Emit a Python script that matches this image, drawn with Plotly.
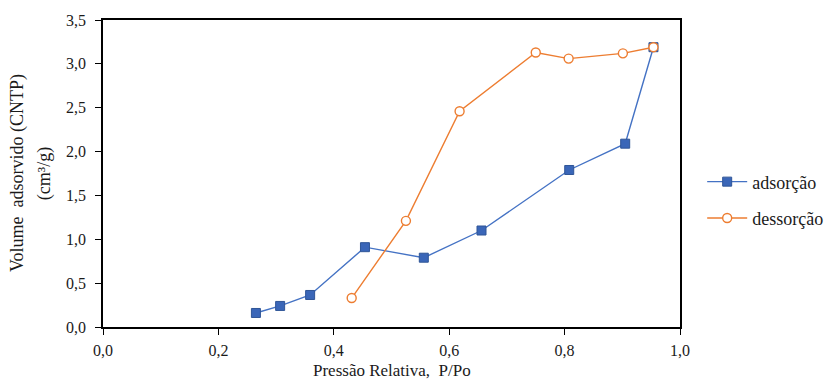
import plotly.graph_objects as go

ads_x = [0.265, 0.307, 0.359, 0.454, 0.556, 0.656, 0.808, 0.905, 0.954]
ads_y = [0.16, 0.24, 0.365, 0.91, 0.79, 1.10, 1.79, 2.09, 3.19]
des_x = [0.431, 0.525, 0.618, 0.750, 0.807, 0.901, 0.954]
des_y = [0.33, 1.21, 2.46, 3.13, 3.06, 3.12, 3.19]

x_ticks = [0.0, 0.2, 0.4, 0.6, 0.8, 1.0]
y_ticks = [0.0, 0.5, 1.0, 1.5, 2.0, 2.5, 3.0, 3.5]

font = "Liberation Serif"

fig = go.Figure()
fig.add_trace(go.Scatter(
    x=ads_x, y=ads_y, mode="lines+markers", name="adsorção", legendgroup="a",
    line=dict(color="#4472C4", width=1.4),
    marker=dict(symbol="square", size=9, color="#3A66B8", line=dict(color="#2F5597", width=1)),
))
fig.add_trace(go.Scatter(
    x=des_x, y=des_y, mode="lines+markers", name="dessorção", legendgroup="b",
    line=dict(color="#ED7D31", width=1.4),
    marker=dict(symbol="circle", size=9, color="white", line=dict(color="#ED7D31", width=1.4)),
))

fig.update_layout(
    width=830, height=383,
    margin=dict(l=103, r=150, t=20, b=56),
    paper_bgcolor="white", plot_bgcolor="white",
    separators=",.",
    font=dict(family=font, size=16, color="#1a1a1a"),
    showlegend=True,
    legend=dict(xref="container", yref="container", x=0.846, y=0.478,
                xanchor="left", yanchor="middle",
                font=dict(family=font, size=18, color="#1a1a1a"),
                itemwidth=40, tracegroupgap=10),
    xaxis=dict(range=[0, 1], tickvals=x_ticks, tickformat=".1f",
               showgrid=False, zeroline=False, showline=True, linecolor="black",
               linewidth=1.6, mirror=True, ticks="outside", ticklen=6,
               tickcolor="black", tickfont=dict(size=16), ticklabelstandoff=2),
    yaxis=dict(range=[0, 3.5], tickvals=y_ticks, tickformat=".1f",
               showgrid=False, zeroline=False, showline=True, linecolor="black",
               linewidth=1.6, mirror=True, ticks="outside", ticklen=6,
               tickcolor="black", tickfont=dict(size=16), ticklabelstandoff=6),
    annotations=[
        dict(text="Pressão Relativa,  P/Po", xref="paper", yref="paper",
             x=0.5, y=-0.179, xanchor="center", yanchor="bottom", showarrow=False,
             font=dict(size=17)),
        dict(text="Volume  adsorvido (CNTP)", xref="paper", yref="paper",
             x=-0.148, y=0.5, textangle=-90, xanchor="center", yanchor="middle",
             showarrow=False, font=dict(size=18)),
        dict(text="(cm³/g)", xref="paper", yref="paper",
             x=-0.101, y=0.5, textangle=-90, xanchor="center", yanchor="middle",
             showarrow=False, font=dict(size=18)),
    ],
)
fig.write_html("out.html", config={"displayModeBar": False},
               post_script="document.body.style.margin='0';document.body.style.padding='0';")
